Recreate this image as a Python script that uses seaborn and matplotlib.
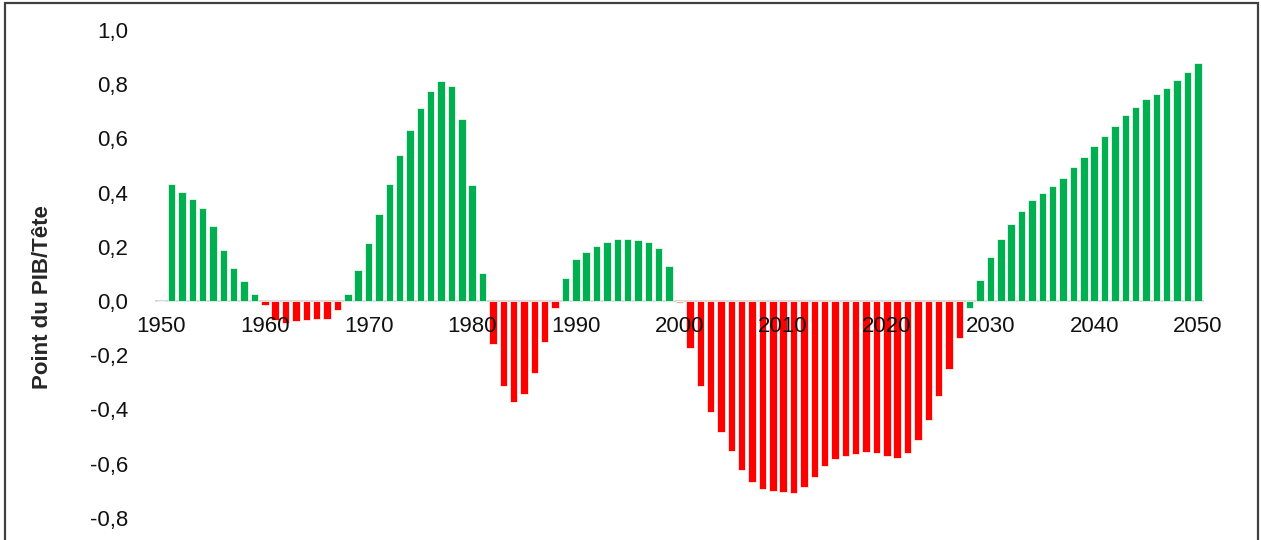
import numpy as np
import pandas as pd
import seaborn as sns
import matplotlib.pyplot as plt
from matplotlib.patches import Rectangle
from matplotlib.ticker import FuncFormatter

years = list(range(1950, 2051))
values = (
    [0.000, 0.431, 0.404, 0.377, 0.342, 0.276, 0.190, 0.120, 0.074, 0.026]      # 1950s
    + [-0.016, -0.071, -0.080, -0.074, -0.071, -0.067, -0.067, -0.035, 0.025, 0.113]  # 1960s
    + [0.213, 0.322, 0.433, 0.537, 0.631, 0.713, 0.776, 0.811, 0.793, 0.670]    # 1970s
    + [0.429, 0.104, -0.157, -0.313, -0.372, -0.344, -0.267, -0.150, -0.025, 0.083]  # 1980s
    + [0.154, 0.181, 0.202, 0.217, 0.228, 0.228, 0.224, 0.217, 0.194, 0.128]    # 1990s
    + [-0.006, -0.172, -0.313, -0.411, -0.482, -0.553, -0.623, -0.669, -0.694, -0.701]  # 2000s
    + [-0.706, -0.708, -0.685, -0.649, -0.610, -0.583, -0.571, -0.564, -0.556, -0.561]  # 2010s
    + [-0.571, -0.580, -0.561, -0.512, -0.439, -0.349, -0.251, -0.137, -0.025, 0.079]  # 2020s
    + [0.162, 0.228, 0.283, 0.333, 0.372, 0.399, 0.424, 0.455, 0.494, 0.533]    # 2030s
    + [0.572, 0.607, 0.646, 0.686, 0.717, 0.744, 0.763, 0.786, 0.815, 0.846]    # 2040s
    + [0.880]                                                                  # 2050
)
tick_years = list(range(1950, 2051, 10))
yticks = [-0.8, -0.6, -0.4, -0.2, 0.0, 0.2, 0.4, 0.6, 0.8, 1.0]

# series membership as in the original workbook (a few bars sit in other series)
series_override = {2000: "neutre", 2028: "hausse"}

df = pd.DataFrame({"annee": [str(y) for y in years], "valeur": values})
df["serie"] = np.where(df["valeur"] >= 0, "hausse", "baisse")
for yr, s in series_override.items():
    df.loc[df["annee"] == str(yr), "serie"] = s

palette = {"hausse": "#00B050", "baisse": "#FF0000", "neutre": "#F4B183"}

sns.set_style("white")
plt.rcParams["font.family"] = ["Liberation Sans", "DejaVu Sans"]

fig = plt.figure(figsize=(12.61, 5.40), dpi=100)
ax = fig.add_axes([156 / 1261, 0.0, 1047 / 1261, 510 / 540])

sns.barplot(data=df, x="annee", y="valeur", hue="serie", palette=palette,
            dodge=False, legend=False, width=0.72, saturation=1,
            edgecolor="white", linewidth=0.5, ax=ax)

ax.set_xlim(-0.5, len(years) - 0.5)
ax.set_ylim(-0.882, 1.0)

ax.set_xticks([years.index(y) for y in tick_years])
ax.set_xticklabels([str(y) for y in tick_years])
ax.set_yticks(yticks)
ax.yaxis.set_major_formatter(FuncFormatter(lambda v, p: f"{v:.1f}".replace(".", ",").replace("-0,0", "0,0")))
ax.set_axisbelow(False)
ax.tick_params(axis="x", length=0, pad=11, labelsize=16, colors="#111111")
ax.tick_params(axis="y", length=0, pad=20, labelsize=16, colors="#111111")

for side in ["left", "top", "right"]:
    ax.spines[side].set_visible(False)
ax.spines["bottom"].set_position(("data", 0))
ax.spines["bottom"].set_color("#D9D9D9")
ax.spines["bottom"].set_linewidth(1.5)
ax.spines["bottom"].set_zorder(0.5)

ax.set_xlabel("")
ax.set_ylabel("")
fig.text(43 / 1261, 1 - 297 / 540, "Point du PIB/Tête", rotation=90,
         ha="center", va="center", fontsize=16, fontweight="bold")

fig.patches.append(Rectangle((5 / 1261, -0.05), 1253 / 1261, 1.05 - 3 / 540,
                             transform=fig.transFigure, fill=False,
                             edgecolor="#404040", linewidth=1.6))

plt.savefig("out.png", dpi=100)
